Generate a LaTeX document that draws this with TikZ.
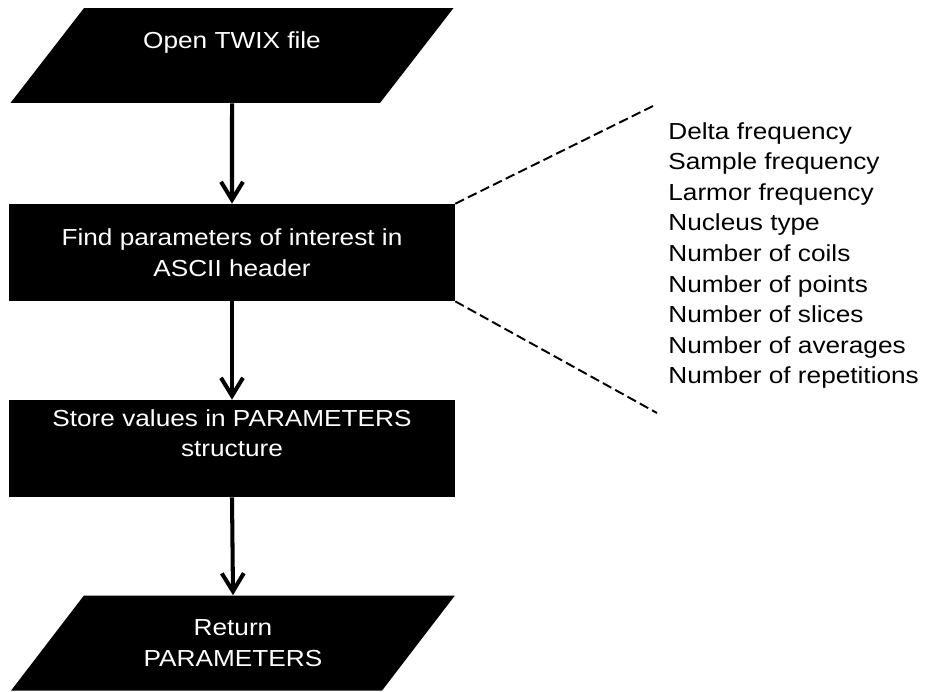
\documentclass[tikz,border=0pt]{standalone}
\usepackage{fontspec}
\setmainfont{Liberation Sans}[FakeStretch=1.13]
\usetikzlibrary{shapes.geometric,arrows.meta}

\tikzset{
	stepfont/.style={font=\fontsize{13.2}{17.4}\selectfont},
	procbox/.style={stepfont, fill=black, text=white, align=center, inner sep=0pt,
		minimum width=8.92cm, minimum height=1.94cm},
	iobox/.style={stepfont, trapezium, trapezium left angle=47, trapezium right angle=133,
		trapezium stretches=true, fill=black, text=white, align=center, inner sep=0pt,
		minimum width=8.88cm, minimum height=1.9cm},
	flow/.style={line width=2.3pt, -{Straight Barb[length=3.6mm,width=4.4mm]}},
	fan/.style={line width=1.1pt, dash pattern=on 5.5pt off 2.5pt}
}

\begin{document}
\begin{tikzpicture}[x=0.02cm, y=-0.02cm]
	\useasboundingbox (0, 0) rectangle (926, 691);

	\node [iobox] (open) at (232, 55.5) {Open TWIX file\\~};
	\node [procbox] (find) at (232, 252.5) {Find parameters of interest in\\ASCII header};
	\node [procbox] (store) at (232, 448.5) {Store values in PARAMETERS\\structure\\~};
	\node [iobox] (ret) at (233, 643) {Return\\PARAMETERS};

	\draw [flow] (open.south) -- (find.north);
	\draw [flow] (find.south) -- (store.north);
	\draw [flow] (store.south) -- (ret.north);

	% header fields picked out of the ASCII block
	\node [stepfont, anchor=north west, align=left, inner sep=0pt] (params) at (668, 122)
		{Delta frequency\\Sample frequency\\Larmor frequency\\Nucleus type\\Number of coils\\
		Number of points\\Number of slices\\Number of averages\\Number of repetitions};
	\coordinate (fantop) at (655, 105);
	\coordinate (fanbot) at (657, 413);
	\draw [fan] (find.north east) -- (fantop);
	\draw [fan] (find.south east) -- (fanbot);
\end{tikzpicture}
\end{document}
